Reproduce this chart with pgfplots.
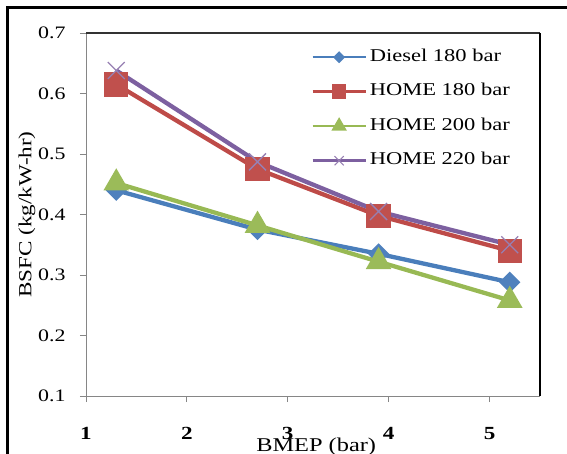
\documentclass[border=0pt]{standalone}
\usepackage{pgfplots}
\pgfplotsset{compat=1.18}
\usepackage{fontspec}
\setmainfont{Liberation Serif}[FakeStretch=1.25]
\definecolor{cBlue}{HTML}{4A7EBB}
\definecolor{cBlueF}{HTML}{4F81BD}
\definecolor{cRed}{HTML}{BE4B48}
\definecolor{cRedF}{HTML}{C0504D}
\definecolor{cGreen}{HTML}{98B954}
\definecolor{cGreenF}{HTML}{9BBB59}
\definecolor{cPurple}{HTML}{7D60A0}
\definecolor{cAxis}{HTML}{868686}
\begin{document}
\begin{tikzpicture}
\useasboundingbox (0bp,0bp) rectangle (567bp,454bp);
\draw[line width=3bp] (7bp,-20bp) -- (7bp,446bp) -- (590bp,446bp);
\begin{axis}[
  at={(86bp,58bp)}, anchor=south west,
  scale only axis, width=454bp, height=363bp,
  xmin=1, xmax=5.5, ymin=0.1, ymax=0.7,
  xtick={1,2,3,4,5},
  ytick={0.1,0.2,0.3,0.4,0.5,0.6,0.7},
  /pgf/number format/assume math mode=true,
  yticklabel style={/pgf/number format/fixed, /pgf/number format/precision=1,
    /pgf/number format/fixed zerofill, font=\fontsize{17.5bp}{20bp}\selectfont,
    anchor=east, xshift=-11bp},
  xticklabel style={font=\fontsize{18.5bp}{20bp}\selectfont\bfseries, anchor=base, yshift=-37bp},
  tick align=outside, tick pos=left, major tick length=6bp,
  tick style={draw=cAxis, line width=0.8bp},
  axis line style={draw=none},
  clip=false,
  xlabel={BMEP (bar)},
  xlabel style={at={(axis description cs:0.507,-0.14)}, anchor=center,
    font=\fontsize{19.5bp}{22bp}\selectfont},
  ylabel={BSFC (kg/kW-hr)},
  ylabel style={at={(axis description cs:-0.13,0.5)}, anchor=center, rotate=0,
    font=\fontsize{18.5bp}{22bp}\selectfont},
  legend style={draw=none, fill=none, at={(rel axis cs:0.496,0.956)}, anchor=north west,
    inner sep=0pt, column sep=3bp, row sep=18.5bp,
    nodes={inner sep=0pt, text height=12bp, text depth=4bp, anchor=west},
    font=\fontsize{18bp}{20bp}\selectfont},
  legend cell align=left,
  legend image code/.code={\draw[mark repeat=2,mark phase=2] plot coordinates {(0bp,0bp) (26.5bp,0bp) (53bp,0bp)};},
]
\draw[cAxis, line width=1bp] (rel axis cs:0,1) -- (rel axis cs:0,0) -- (rel axis cs:1,0);
\draw[black!80, line width=1.3bp] (rel axis cs:0,1) -- (rel axis cs:1,1);
\draw[black, line width=2bp] (rel axis cs:1,1) -- (rel axis cs:1,0);

\addlegendimage{cBlue, line width=2.5bp, mark=square*, mark size=3bp, mark options={solid, fill=cBlueF, draw=cBlueF, rotate=45}}
\addlegendentry{Diesel 180 bar}
\addlegendimage{cRed, line width=2.5bp, mark=square*, mark size=6bp, mark options={solid, fill=cRedF, draw=cRedF}}
\addlegendentry{HOME 180 bar}
\addlegendimage{cGreen, line width=2.5bp, mark=triangle*, mark size=6.5bp, mark options={solid, fill=cGreenF, draw=cGreenF}}
\addlegendentry{HOME 200 bar}
\addlegendimage{cPurple, line width=2.5bp, mark=x, mark size=6.5bp, mark options={solid, line width=1bp, draw=cPurple!80}}
\addlegendentry{HOME 220 bar}

\addplot[forget plot, cBlue, line width=4.3bp, mark=square*, mark size=5.3bp, mark options={solid, fill=cBlueF, draw=cBlueF, rotate=45}]
  coordinates {(1.3,0.440) (2.7,0.375) (3.9,0.335) (5.2,0.288)};
\addplot[forget plot, cRed, line width=4.3bp, mark=square*, mark size=10bp, mark options={solid, fill=cRedF, draw=cRedF}]
  coordinates {(1.3,0.615) (2.7,0.475) (3.9,0.398) (5.2,0.340)};
\addplot[forget plot, cGreen, line width=4.3bp, mark=triangle*, mark size=10.5bp, mark options={solid, fill=cGreenF, draw=cGreenF}]
  coordinates {(1.3,0.452) (2.7,0.382) (3.9,0.322) (5.2,0.258)};
\addplot[forget plot, cPurple, line width=4.3bp, mark=x, mark size=12bp, mark options={solid, line width=1.3bp, draw=cPurple!80}]
  coordinates {(1.3,0.638) (2.7,0.487) (3.9,0.405) (5.2,0.350)};
\end{axis}
\end{tikzpicture}
\end{document}
